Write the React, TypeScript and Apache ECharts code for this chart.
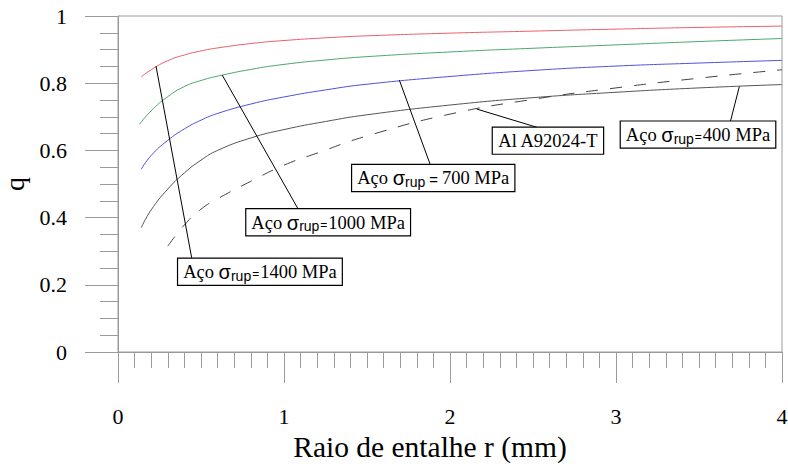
import React, { useEffect, useRef } from "react";
import * as echarts from "echarts";

// Curves: [r (mm), q]
const aco1400: [number, number][] = [
  [0.14, 0.819], [0.2, 0.84], [0.3, 0.867], [0.4, 0.884], [0.5, 0.896], [0.6, 0.905],
  [0.8, 0.918], [1.0, 0.927], [1.25, 0.935], [1.5, 0.941], [2.0, 0.949], [2.5, 0.955],
  [3.0, 0.961], [3.5, 0.966], [4.0, 0.97],
];
const aco1000: [number, number][] = [
  [0.13, 0.678], [0.2, 0.718], [0.3, 0.76], [0.4, 0.79], [0.5, 0.808], [0.6, 0.821],
  [0.8, 0.841], [1.0, 0.856], [1.25, 0.869], [1.5, 0.879], [2.0, 0.893], [2.5, 0.904],
  [3.0, 0.914], [3.5, 0.924], [4.0, 0.933],
];
const aco700: [number, number][] = [
  [0.14, 0.544], [0.2, 0.585], [0.3, 0.63], [0.4, 0.664], [0.5, 0.69], [0.6, 0.71],
  [0.8, 0.738], [1.0, 0.759], [1.25, 0.78], [1.5, 0.797], [2.0, 0.82], [2.5, 0.838],
  [3.0, 0.851], [3.5, 0.86], [4.0, 0.868],
];
const aco400: [number, number][] = [
  [0.14, 0.37], [0.2, 0.423], [0.3, 0.485], [0.4, 0.533], [0.5, 0.571], [0.6, 0.6],
  [0.8, 0.637], [1.0, 0.662], [1.25, 0.686], [1.5, 0.706], [2.0, 0.735], [2.5, 0.757],
  [3.0, 0.773], [3.5, 0.786], [4.0, 0.796],
];
const alA92024: [number, number][] = [
  [0.3, 0.315], [0.4, 0.378], [0.5, 0.425], [0.6, 0.456], [0.8, 0.508], [1.0, 0.556],
  [1.2, 0.592], [1.5, 0.643], [2.0, 0.708], [2.5, 0.752], [3.0, 0.786], [3.5, 0.815],
  [4.0, 0.84],
];

// Annotations: label per curve, box centre [r, q], leader from [r, q] to [r, q]
const labelSigma = ["1400", "1000", "700", "Al", "400"];
const boxCentres: [number, number][] = [
  [0.855, 0.239], [1.266, 0.386], [1.899, 0.518], [2.59, 0.629], [3.494, 0.647],
];
const leaderFrom: [number, number][] = [
  [0.229, 0.851], [0.628, 0.824], [1.695, 0.809], [2.161, 0.723], [3.743, 0.79],
];
const leaderTo: [number, number][] = [
  [0.444, 0.28], [1.086, 0.425], [1.88, 0.559], [2.542, 0.666], [3.687, 0.682],
];

const SERIF = "Liberation Serif";
const SANS = "Liberation Sans";

const rich = {
  a: { fontFamily: SERIF, fontSize: 18.5, color: "#000", lineHeight: 23 },
  s: { fontFamily: SANS, fontSize: 20, color: "#000", lineHeight: 23 },
  sub: { fontFamily: SANS, fontSize: 14, color: "#000", lineHeight: 23, padding: [7, 0, 0, 0] },
  eq: { fontFamily: SANS, fontSize: 12, color: "#000", lineHeight: 23, padding: [4, 1, 0, 1] },
  eq2: { fontFamily: SANS, fontSize: 15, color: "#000", lineHeight: 23, padding: [3, 4, 0, 4] },
};

function labelText(v: string): string {
  if (v === "Al") return "{a|Al A92024-T}";
  if (v === "700") return "{a|Aço }{s|σ}{sub|rup}{eq2|=}{a|700 MPa}";
  return "{a|Aço }{s|σ}{sub|rup}{eq|=}{a|" + v + " MPa}";
}

export default function App() {
  const ref = useRef<HTMLDivElement>(null);
  useEffect(() => {
    if (!ref.current) return;
    const chart = echarts.init(ref.current, undefined, { renderer: "svg" });
    const axisGray = "#9a9a9a";
    const mkSeries = (data: [number, number][], color: string, dashed = false) => ({
      type: "line",
      data,
      smooth: 0.5,
      symbol: "none",
      lineStyle: { color, width: 1, type: dashed ? [12, 12] : "solid" },
      z: 2,
    });
    const gray = mkSeries(aco400, "#555555") as any;
    gray.markLine = {
      silent: true,
      symbol: ["none", "none"],
      label: { show: false },
      lineStyle: { color: "#000", width: 1, type: "solid" },
      data: leaderFrom.map((f, i) => [{ coord: f }, { coord: leaderTo[i] }]),
    };
    gray.markPoint = {
      silent: true,
      symbol: "rect",
      symbolSize: 1,
      itemStyle: { color: "rgba(0,0,0,0)" },
      data: boxCentres.map((c, i) => ({
        coord: c,
        label: {
          show: true,
          position: "inside",
          formatter: labelText(labelSigma[i]),
          rich,
          backgroundColor: "#fff",
          borderColor: "#000",
          borderWidth: 1.2,
          padding: [2, 5, 1, 5],
        },
      })),
    };
    chart.setOption({
      animation: false,
      backgroundColor: "#fff",
      textStyle: { fontFamily: SERIF },
      grid: {
        left: 118, right: 6, top: 16, bottom: 112,
        outerBoundsMode: "none", containLabel: false,
        show: true, borderColor: axisGray, borderWidth: 1,
      },
      xAxis: {
        type: "value",
        min: 0,
        max: 4,
        interval: 1,
        name: "Raio de entalhe r (mm)",
        nameLocation: "middle",
        nameGap: 75,
        nameTextStyle: { fontFamily: SERIF, fontSize: 29.5, color: "#000", padding: [0, 40, 0, 0] },
        axisLine: { lineStyle: { color: axisGray } },
        axisTick: { show: true, length: 31, lineStyle: { color: axisGray } },
        minorTick: { show: true, splitNumber: 10, length: 16, lineStyle: { color: axisGray } },
        axisLabel: { margin: 53, fontFamily: SERIF, fontSize: 22, color: "#000" },
        splitLine: { show: false },
      },
      yAxis: {
        type: "value",
        min: 0,
        max: 1,
        interval: 0.2,
        name: "q",
        nameLocation: "middle",
        nameGap: 83,
        nameTextStyle: { fontFamily: SERIF, fontSize: 28, color: "#000" },
        axisLine: { lineStyle: { color: axisGray } },
        axisTick: { show: true, length: 33, lineStyle: { color: axisGray } },
        minorTick: { show: true, splitNumber: 4, length: 18, lineStyle: { color: axisGray } },
        axisLabel: { margin: 51, fontFamily: SERIF, fontSize: 22, color: "#000" },
        splitLine: { show: false },
      },
      series: [
        mkSeries(aco1400, "#e8606a"),
        mkSeries(aco1000, "#4aa86a"),
        mkSeries(aco700, "#5050e0"),
        gray,
        mkSeries(alA92024, "#444444", true),
      ],
    });
    return () => chart.dispose();
  }, []);
  return <div ref={ref} style={{ width: 788, height: 464, position: "absolute", left: 0, top: 0 }} />;
}
